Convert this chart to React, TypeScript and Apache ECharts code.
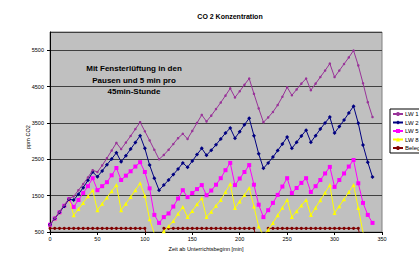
import React, { useEffect, useRef } from "react";
import * as echarts from "echarts";

const times = [
  0, 5, 10, 15, 20, 25, 30, 35, 40, 45,
  50, 55, 60, 65, 70, 75, 80, 85, 90, 95,
  100, 105, 110, 115, 120, 125, 130, 135, 140, 145,
  150, 155, 160, 165, 170, 175, 180, 185, 190, 195,
  200, 205, 210, 215, 220, 225, 230, 235, 240, 245,
  250, 255, 260, 265, 270, 275, 280, 285, 290, 295,
  300, 305, 310, 315, 320, 325, 330, 335, 340,
];

const lw1 = [
  700, 880, 1060, 1240, 1420, 1480, 1650, 1820, 2000, 2200,
  2150, 2330, 2530, 2740, 2950, 2780, 2960, 3140, 3330, 3520,
  3270, 3020, 2760, 2500, 2620, 2760, 2920, 3080, 3200, 3060,
  3280, 3500, 3720, 3540, 3700, 3880, 4060, 4250, 4450, 4200,
  4370, 4550, 4720, 4300, 3900, 3520, 3650, 3800, 3990, 4220,
  4480, 4260, 4420, 4580, 4720, 4400, 4580, 4760, 4940, 5130,
  4760, 4940, 5120, 5300, 5490, 5080, 4590, 4070, 3660,
];

const lw2 = [
  700, 870, 1040, 1210, 1400, 1380, 1540, 1720, 1920, 2150,
  2020, 2180, 2350, 2510, 2680, 2430, 2600, 2780, 2960, 3150,
  2800, 2340, 1980, 1650, 1790, 1930, 2080, 2230, 2400, 2280,
  2450, 2630, 2800, 2610, 2750, 2900, 3060, 3220, 3360, 3080,
  3260, 3450, 3630, 3150, 2650, 2250, 2400, 2560, 2740, 2920,
  3110, 2800, 2970, 3140, 3300, 2970, 3150, 3330, 3500, 3660,
  3220, 3400, 3580, 3770, 3960, 3490, 2890, 2420, 2010,
];

const lw5 = [
  700, 870, 1040, 1220, 1400, 1190, 1380, 1570, 1760, 1980,
  1650, 1760, 1870, 2060, 2260, 1930, 2050, 2170, 2300, 2420,
  2150, 1700, 970, 750, 910, 1010, 1200, 1420, 1650, 1460,
  1570, 1680, 1790, 1510, 1640, 1800, 1980, 2200, 2400, 1790,
  1970, 2150, 2340, 1800, 1250, 910, 1100, 1300, 1520, 1750,
  1980, 1570, 1710, 1850, 1980, 1600, 1760, 1930, 2110, 2290,
  1740, 1930, 2110, 2300, 2480, 1840, 1300, 970, 750,
];

const lw8 = [
  700, 870, 1040, 1220, 1400, 960, 1130, 1300, 1480, 1650,
  1100, 1280, 1450, 1620, 1790, 1100, 1280, 1460, 1650, 1840,
  1500, 850, 450, 380, 520, 660, 800, 1000, 1190, 910,
  1080, 1260, 1430, 910, 1060, 1220, 1380, 1600, 1820, 1160,
  1340, 1520, 1710, 1200, 650, 400, 560, 750, 960, 1170,
  1380, 910, 1070, 1230, 1380, 970, 1170, 1370, 1580, 1790,
  1020, 1210, 1400, 1600, 1790, 1160, 480, 380, 330,
];

const belegung = [
  600, 600, 600, 600, 600, 600, 600, 600, 600, 600,
  600, 600, 600, 600, 600, 600, 600, 600, 600, 600,
  600, 0, 0, 0, 600, 600, 600, 600, 600, 600,
  600, 600, 600, 600, 600, 600, 600, 600, 600, 600,
  600, 600, 600, 600, 0, 0, 600, 600, 600, 600,
  600, 600, 600, 600, 600, 600, 600, 600, 600, 600,
  600, 600, 600, 600, 600, 600, 0, 0, 0,
];

const seriesNames = ["LW 1", "LW 2", "LW 5", "LW 8", "Belegung"];
const titleText = "CO 2 Konzentration";
const xAxisTitle = "Zeit ab Unterrichtsbeginn [min]";
const yAxisTitle = "ppm CO2";
const noteText = "Mit Fensterlüftung in den\nPausen und 5 min pro\n45min-Stunde";

const FONT = "Liberation Sans, Arial, sans-serif";

function pairs(values: number[]) {
  return times.map((t, i) => [t, values[i]]);
}

export default function App() {
  const ref = useRef<HTMLDivElement>(null);

  useEffect(() => {
    document.body.style.margin = "0";
    if (!ref.current) return;
    const chart = echarts.init(ref.current, undefined, { renderer: "svg" });

    const mk = (
      name: string,
      values: number[],
      color: string,
      symbol: string,
      size: number,
      z: number
    ) => ({
      name,
      type: "line",
      data: pairs(values),
      symbol,
      symbolSize: size,
      showSymbol: true,
      clip: true,
      z,
      lineStyle: { color, width: 1 },
      itemStyle: { color, borderWidth: 0 },
      emphasis: { disabled: true },
    });

    chart.setOption({
      animation: false,
      title: {
        text: titleText,
        left: 225,
        top: 8,
        textAlign: "center",
        textStyle: { fontFamily: FONT, fontSize: 7, fontWeight: "bold", color: "#000" },
      },
      grid: {
        left: 50,
        right: 37,
        top: 32,
        bottom: 26,
        show: true,
        backgroundColor: "#c0c0c0",
        borderColor: "#808080",
        borderWidth: 1,
      },
      legend: {
        orient: "vertical",
        left: 390,
        top: 109,
        itemWidth: 10,
        itemHeight: 5,
        itemGap: 2.5,
        padding: [2, 2, 2, 2],
        backgroundColor: "#ffffff",
        borderColor: "#000000",
        borderWidth: 1,
        borderRadius: 0,
        data: seriesNames,
        textStyle: { fontFamily: FONT, fontSize: 6, color: "#000", padding: [0, 0, 0, -3] },
      },
      xAxis: {
        type: "value",
        min: 0,
        max: 350,
        interval: 50,
        axisLine: { show: true, lineStyle: { color: "#000", width: 1 } },
        axisTick: { show: true, length: 3, lineStyle: { color: "#000" } },
        axisLabel: {
          fontFamily: FONT,
          fontSize: 5.5,
          color: "#000",
          margin: 4,
          formatter: (v: number) => String(v),
        },
        splitLine: { show: false },
      },
      yAxis: {
        type: "value",
        min: 500,
        max: 6000,
        interval: 1000,
        axisLine: { show: true, lineStyle: { color: "#000", width: 1 } },
        axisTick: { show: true, length: 3, lineStyle: { color: "#000" } },
        axisLabel: {
          fontFamily: FONT,
          fontSize: 5.5,
          color: "#000",
          margin: 6,
          showMaxLabel: false,
          formatter: (v: number) => String(v),
        },
        splitLine: { show: true, lineStyle: { color: "#404040", width: 1 } },
      },
      graphic: [
        {
          type: "text",
          x: 134,
          y: 63,
          style: {
            text: noteText,
            font: `bold 8px ${FONT}`,
            fill: "#000",
            textAlign: "center",
            lineHeight: 11.5,
          },
        },
        {
          type: "text",
          x: 206,
          y: 249,
          style: {
            text: xAxisTitle,
            font: `5.5px ${FONT}`,
            fill: "#000",
            textAlign: "center",
            textVerticalAlign: "middle",
          },
        },
        {
          type: "text",
          x: 28,
          y: 137,
          rotation: Math.PI / 2,
          style: {
            text: yAxisTitle,
            font: `5.5px ${FONT}`,
            fill: "#000",
            textAlign: "center",
            textVerticalAlign: "middle",
          },
        },
      ],
      series: [
        mk("Belegung", belegung, "#800000", "circle", 3, 2),
        mk("LW 8", lw8, "#ffff00", "triangle", 4, 3),
        mk("LW 5", lw5, "#ff00ff", "rect", 4, 4),
        mk("LW 2", lw2, "#000080", "diamond", 4, 5),
        mk("LW 1", lw1, "#993399", "circle", 2.5, 6),
      ],
    });

    return () => chart.dispose();
  }, []);

  return <div ref={ref} style={{ width: 419, height: 258 }} />;
}
